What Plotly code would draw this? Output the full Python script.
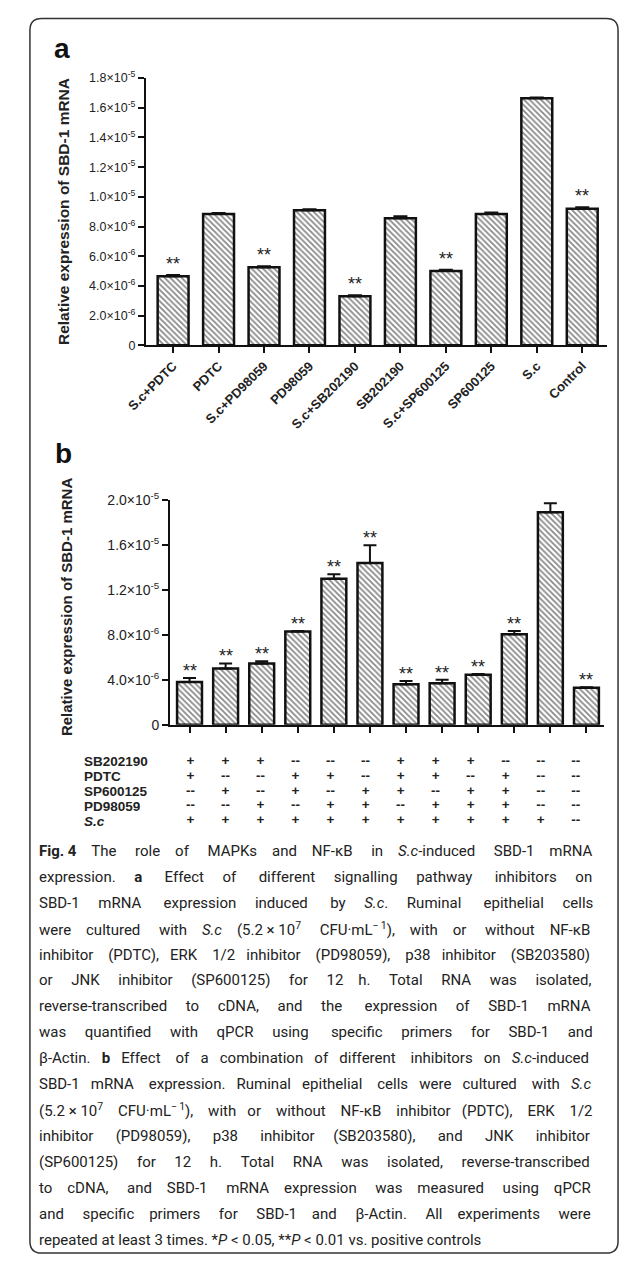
import os
import re
import struct
import plotly.graph_objects as go

# page is 627x1270; the html body keeps an 8px margin, so the figure is made smaller
PAGE_W, PAGE_H, OFF = 627, 1270, 8
W, H = PAGE_W - 2 * OFF, PAGE_H - 2 * OFF


def px(x):
    return (x - OFF) / W


def py(y):
    return 1 - (y - OFF) / H


# ---------------- data: panel a ----------------
a_categories = ["S.c+PDTC", "PDTC", "S.c+PD98059", "PD98059", "S.c+SB202190",
                "SB202190", "S.c+SP600125", "SP600125", "S.c", "Control"]
a_values = [4.65e-6, 8.85e-6, 5.25e-6, 9.1e-6, 3.3e-6, 8.55e-6, 5.0e-6, 8.85e-6, 1.665e-5, 9.2e-6]
a_errors = [0.08e-6, 0.06e-6, 0.07e-6, 0.06e-6, 0.07e-6, 0.15e-6, 0.08e-6, 0.1e-6, 0.04e-6, 0.1e-6]
a_sig = ["**", "", "**", "", "**", "", "**", "", "", "**"]
a_tickvals = [0, 2e-6, 4e-6, 6e-6, 8e-6, 1e-5, 1.2e-5, 1.4e-5, 1.6e-5, 1.8e-5]
a_ticktext = ["0", "2.0×10<sup>-6</sup>", "4.0×10<sup>-6</sup>", "6.0×10<sup>-6</sup>",
              "8.0×10<sup>-6</sup>", "1.0×10<sup>-5</sup>", "1.2×10<sup>-5</sup>",
              "1.4×10<sup>-5</sup>", "1.6×10<sup>-5</sup>", "1.8×10<sup>-5</sup>"]

# ---------------- data: panel b ----------------
b_categories = ["G1", "G2", "G3", "G4", "G5", "G6", "G7", "G8", "G9", "G10", "G11", "G12"]
b_values = [3.8e-6, 5.0e-6, 5.45e-6, 8.3e-6, 1.3e-5, 1.44e-5, 3.6e-6, 3.7e-6, 4.45e-6, 8.05e-6, 1.89e-5, 3.3e-6]
b_errors = [0.35e-6, 0.45e-6, 0.2e-6, 0.05e-6, 0.4e-6, 1.57e-6, 0.3e-6, 0.3e-6, 0.06e-6, 0.3e-6, 0.8e-6, 0.03e-6]
b_sig = ["**"] * 10 + ["", "**"]
b_tickvals = [0, 4e-6, 8e-6, 1.2e-5, 1.6e-5, 2e-5]
b_ticktext = ["0", "4.0×10<sup>-6</sup>", "8.0×10<sup>-6</sup>", "1.2×10<sup>-5</sup>",
              "1.6×10<sup>-5</sup>", "2.0×10<sup>-5</sup>"]

# treatment table under panel b
row_labels = ["SB202190", "PDTC", "SP600125", "PD98059", "<i>S.c</i>"]
row_SB202190 = ["+", "+", "+", "--", "--", "--", "+", "+", "+", "--", "--", "--"]
row_PDTC = ["+", "--", "--", "+", "+", "--", "+", "+", "--", "+", "--", "--"]
row_SP600125 = ["--", "+", "--", "+", "--", "+", "+", "--", "+", "+", "--", "--"]
row_PD98059 = ["--", "--", "+", "--", "+", "+", "--", "+", "+", "+", "--", "--"]
row_Sc = ["+", "+", "+", "+", "+", "+", "+", "+", "+", "+", "+", "--"]
table_rows = [row_SB202190, row_PDTC, row_SP600125, row_PD98059, row_Sc]

NB = "\u00a0"
caption_lines = [
    "<b>Fig.\u00a04</b> The role of MAPKs and NF-κB in <i>S.c</i>-induced SBD-1 mRNA",
    "expression. <b>a</b> Effect of different signalling pathway inhibitors on",
    "SBD-1 mRNA expression induced by <i>S.c</i>. Ruminal epithelial cells",
    "were cultured with <i>S.c</i> (5.2\u00a0×\u00a010<sup>7</sup> CFU·mL<sup>−\u20091</sup>), with or without NF-κB",
    "inhibitor (PDTC), ERK 1/2 inhibitor (PD98059), p38 inhibitor (SB203580)",
    "or JNK inhibitor (SP600125) for 12 h. Total RNA was isolated,",
    "reverse-transcribed to cDNA, and the expression of SBD-1 mRNA",
    "was quantified with qPCR using specific primers for SBD-1 and",
    "β-Actin. <b>b</b> Effect of a combination of different inhibitors on <i>S.c</i>-induced",
    "SBD-1 mRNA expression. Ruminal epithelial cells were cultured with <i>S.c</i>",
    "(5.2\u00a0×\u00a010<sup>7</sup> CFU·mL<sup>−\u20091</sup>), with or without NF-κB inhibitor (PDTC), ERK 1/2",
    "inhibitor (PD98059), p38 inhibitor (SB203580), and JNK inhibitor",
    "(SP600125) for 12 h. Total RNA was isolated, reverse-transcribed",
    "to cDNA, and SBD-1 mRNA expression was measured using qPCR",
    "and specific primers for SBD-1 and β-Actin. All experiments were",
    "repeated at least 3 times. *<i>P</i>\u00a0&lt;\u00a00.05, **<i>P</i>\u00a0&lt;\u00a00.01 vs. positive controls",
]


# ---------- font metrics, used to justify the caption lines ----------
def find_font(names):
    roots = ["/usr/share/fonts", "/usr/local/share/fonts",
             os.path.expanduser("~/.fonts"), os.path.expanduser("~/.local/share/fonts")]
    for name in names:
        for root in roots:
            if not os.path.isdir(root):
                continue
            for dp, dn, fn in os.walk(root):
                if name in fn:
                    return os.path.join(dp, name)
    return None


def load_widths(path):
    data = open(path, "rb").read()
    n_tables = struct.unpack(">H", data[4:6])[0]
    tables = {}
    for i in range(n_tables):
        tag, _cs, off, ln = struct.unpack(">4sIII", data[12 + 16 * i:28 + 16 * i])
        tables[tag.decode("latin1")] = off
    o = tables["head"]
    upem = struct.unpack(">H", data[o + 18:o + 20])[0]
    o = tables["hhea"]
    nhm = struct.unpack(">H", data[o + 34:o + 36])[0]
    o = tables["hmtx"]
    adv = [struct.unpack(">H", data[o + 4 * i:o + 4 * i + 2])[0] for i in range(nhm)]
    c = tables["cmap"]
    nsub = struct.unpack(">H", data[c + 2:c + 4])[0]
    sub = None
    for i in range(nsub):
        pid, eid, so = struct.unpack(">HHI", data[c + 4 + 8 * i:c + 12 + 8 * i])
        fmt = struct.unpack(">H", data[c + so:c + so + 2])[0]
        if fmt == 4 and pid in (0, 3):
            sub = c + so
            break
    segx2 = struct.unpack(">H", data[sub + 6:sub + 8])[0]
    seg = segx2 // 2
    ends = struct.unpack(">%dH" % seg, data[sub + 14:sub + 14 + segx2])
    starts = struct.unpack(">%dH" % seg, data[sub + 16 + segx2:sub + 16 + 2 * segx2])
    deltas = struct.unpack(">%dh" % seg, data[sub + 16 + 2 * segx2:sub + 16 + 3 * segx2])
    ro = sub + 16 + 3 * segx2
    ros = struct.unpack(">%dH" % seg, data[ro:ro + segx2])

    def glyph(code):
        for k in range(seg):
            if ends[k] >= code:
                if starts[k] > code:
                    return 0
                if ros[k] == 0:
                    return (code + deltas[k]) & 0xFFFF
                addr = ro + 2 * k + ros[k] + 2 * (code - starts[k])
                g = struct.unpack(">H", data[addr:addr + 2])[0]
                return (g + deltas[k]) & 0xFFFF if g else 0
        return 0

    cache = {}

    def width(ch):
        if ch not in cache:
            g = glyph(ord(ch))
            cache[ch] = 0.55 if g == 0 else (adv[g] if g < nhm else adv[-1]) / upem
        return cache[ch]

    return width


CAP_FAMILY = None
w_reg = w_bold = None
KFAC = 1.0
for fam, reg, bold, kf in [("Roboto", "Roboto-Regular.ttf", "Roboto-Bold.ttf", 1.055),
                           ("Lato", "Lato-Regular.ttf", "Lato-Bold.ttf", 1.06)]:
    try:
        p = find_font([reg])
        if p:
            w_reg = load_widths(p)
            pb = find_font([bold])
            w_bold = load_widths(pb) if pb else (lambda ch, f=w_reg: f(ch) * 1.05)
            CAP_FAMILY, KFAC = fam, kf
            break
    except Exception:
        w_reg = w_bold = None
        CAP_FAMILY = None

TAG = re.compile(r"(</?(?:b|i|sup)>)")


def text_width(html, size):
    total, bold, sup = 0.0, False, False
    for tok in TAG.split(html.replace("&lt;", "<")):
        if tok in ("<b>", "</b>", "<i>", "</i>", "<sup>", "</sup>"):
            if tok == "<b>":
                bold = True
            elif tok == "</b>":
                bold = False
            elif tok == "<sup>":
                sup = True
            elif tok == "</sup>":
                sup = False
            continue
        s = size * (0.7 if sup else 1.0) * KFAC
        for ch in tok:
            cc = " " if ch == NB else ch
            total += (w_bold if bold else w_reg)(cc) * s
    return total


def justify(html, size, target):
    words = html.split(" ")
    gaps = len(words) - 1
    extra = target - text_width(html, size)
    sp = w_reg(" ") * size * KFAC
    n_extra = max(0, int(extra // sp)) if gaps else 0
    out = words[0]
    for i, wd in enumerate(words[1:]):
        k = round((i + 1) * n_extra / gaps) - round(i * n_extra / gaps)
        out += NB * (1 + k) + wd
    return out


CAP_X0, CAP_X1 = 17, 603
LAST_W = 468
if w_reg is not None:
    cap_size = LAST_W / text_width(caption_lines[-1], 1.0)
    cap_size = max(13.0, min(cap_size, 18.0))
    cap_text = [justify(l, cap_size, CAP_X1 - CAP_X0) for l in caption_lines[:-1]]
    cap_text.append(caption_lines[-1])
    cap_font = CAP_FAMILY + ", sans-serif"
else:
    cap_size = 15.0
    cap_text = list(caption_lines)
    cap_font = "Roboto, sans-serif"

# ---------------- figure ----------------
AX = "Arial, Liberation Sans, sans-serif"
INK = "#111"
pattern = dict(shape="\\", fgcolor=INK, bgcolor="white", size=4, solidity=0.45)

fig = go.Figure()
fig.add_trace(go.Bar(
    x=a_categories, y=a_values, width=0.68,
    marker=dict(color="white", pattern=pattern, line=dict(color=INK, width=2.5)),
    error_y=dict(type="data", array=a_errors, arrayminus=[0] * len(a_errors), symmetric=False,
                 color=INK, thickness=2, width=7),
    xaxis="x", yaxis="y", showlegend=False))
fig.add_trace(go.Bar(
    x=b_categories, y=b_values, width=0.69,
    marker=dict(color="white", pattern=pattern, line=dict(color=INK, width=2.5)),
    error_y=dict(type="data", array=b_errors, arrayminus=[0] * len(b_errors), symmetric=False,
                 color=INK, thickness=2, width=6.5),
    xaxis="x2", yaxis="y2", showlegend=False))

tx, ty, tt = [], [], []
for r, row in enumerate(table_rows):
    for c, s in enumerate(row):
        tx.append(c)
        ty.append(r)
        tt.append("<b>" + s + "</b>")
fig.add_trace(go.Scatter(
    x=tx, y=ty, text=tt, mode="text", textposition="middle center",
    textfont=dict(family=AX, size=13.5, color="#222"),
    xaxis="x3", yaxis="y3", showlegend=False, cliponaxis=False, hoverinfo="skip"))

axis_common = dict(showline=True, linecolor=INK, linewidth=2.2, ticks="outside",
                   ticklen=6, tickwidth=2, tickcolor=INK, showgrid=False, zeroline=False,
                   fixedrange=True)

ROW_Y0, ROW_DY = 762, 15.2
COL_X0, COL_DX = 176, 36.2
T_LEFT, T_RIGHT, T_TOP, T_BOT = 155, 604, 752, 833

fig.update_layout(
    width=W, height=H,
    margin=dict(l=0, r=0, t=0, b=0),
    paper_bgcolor="white", plot_bgcolor="white",
    showlegend=False,
    xaxis=dict(domain=[px(130), px(607)], range=[-0.596, 9.553], type="category",
               tickangle=-45, tickfont=dict(family=AX, size=13, color="#222", weight="bold"),
               anchor="y", **axis_common),
    yaxis=dict(domain=[py(340), py(69)], range=[0, 1.8e-5],
               tickvals=a_tickvals, ticktext=a_ticktext,
               tickfont=dict(family=AX, size=12.5, color="#222"),
               anchor="x", **axis_common),
    xaxis2=dict(domain=[px(155), px(604)], range=[-0.536, 11.5], type="category",
                showticklabels=False, anchor="y2", **axis_common),
    yaxis2=dict(domain=[py(725), py(497)], range=[0, 2e-5],
                tickvals=b_tickvals, ticktext=b_ticktext,
                tickfont=dict(family=AX, size=14, color="#222"),
                anchor="x2", **axis_common),
    xaxis3=dict(domain=[px(T_LEFT), px(T_RIGHT)],
                range=[(T_LEFT - COL_X0) / COL_DX, (T_RIGHT - COL_X0) / COL_DX],
                visible=False, anchor="y3", fixedrange=True),
    yaxis3=dict(domain=[py(T_BOT), py(T_TOP)],
                range=[(T_BOT - ROW_Y0) / ROW_DY, (T_TOP - ROW_Y0) / ROW_DY],
                visible=False, anchor="x3", fixedrange=True),
)

ann = []
for cat, v, e, s in zip(a_categories, a_values, a_errors, a_sig):
    if s:
        ann.append(dict(x=cat, y=v + e, xref="x", yref="y", text=s, showarrow=False,
                        xanchor="center", yanchor="bottom", yshift=-1,
                        font=dict(family=AX, size=18, color="#222")))
for cat, v, e, s in zip(b_categories, b_values, b_errors, b_sig):
    if s:
        ann.append(dict(x=cat, y=v + e, xref="x2", yref="y2", text=s, showarrow=False,
                        xanchor="center", yanchor="bottom", yshift=-5,
                        font=dict(family=AX, size=18, color="#222")))
ann.append(dict(x=px(44), y=py(204), xref="paper", yref="paper", showarrow=False,
                xanchor="center", yanchor="middle",
                text="<b>Relative expression of SBD-1 mRNA</b>", textangle=-90,
                font=dict(family=AX, size=15.5, color="#222")))
ann.append(dict(x=px(48), y=py(605), xref="paper", yref="paper", showarrow=False,
                xanchor="center", yanchor="middle",
                text="<b>Relative expression of SBD-1 mRNA</b>", textangle=-90,
                font=dict(family=AX, size=15, color="#222")))
ann.append(dict(x=px(43), y=py(39), xref="paper", yref="paper", showarrow=False,
                xanchor="center", yanchor="middle",
                text="<b>a</b>", font=dict(family=AX, size=28, color=INK)))
ann.append(dict(x=px(45), y=py(450), xref="paper", yref="paper", showarrow=False,
                xanchor="center", yanchor="middle",
                text="<b>b</b>", font=dict(family=AX, size=28, color=INK)))
for r, lab in enumerate(row_labels):
    ann.append(dict(x=px(64), y=r, xref="paper", yref="y3", xanchor="left", yanchor="middle",
                    showarrow=False, text="<b>" + lab + "</b>",
                    font=dict(family=AX, size=13.5, color="#222")))
CAP_Y0, CAP_DY = 853, 26.3
for i, line in enumerate(cap_text):
    ann.append(dict(x=px(CAP_X0), y=py(CAP_Y0 + i * CAP_DY), xref="paper", yref="paper",
                    xanchor="left", yanchor="middle", showarrow=False, text=line,
                    font=dict(family=cap_font, size=cap_size, color="#222")))
fig.update_layout(annotations=ann)

# rounded frame around figure and caption
x0, x1, yt, yb = px(10), px(618), py(8.5), py(1261)
rx, ry = 12 / W, 12 / H
path = (f"M {x0 + rx},{yt} L {x1 - rx},{yt} Q {x1},{yt} {x1},{yt - ry} "
        f"L {x1},{yb + ry} Q {x1},{yb} {x1 - rx},{yb} L {x0 + rx},{yb} "
        f"Q {x0},{yb} {x0},{yb + ry} L {x0},{yt - ry} Q {x0},{yt} {x0 + rx},{yt} Z")
fig.add_shape(type="path", path=path, xref="paper", yref="paper",
              line=dict(color="#333", width=1.5))

fig.write_html("out.html")
